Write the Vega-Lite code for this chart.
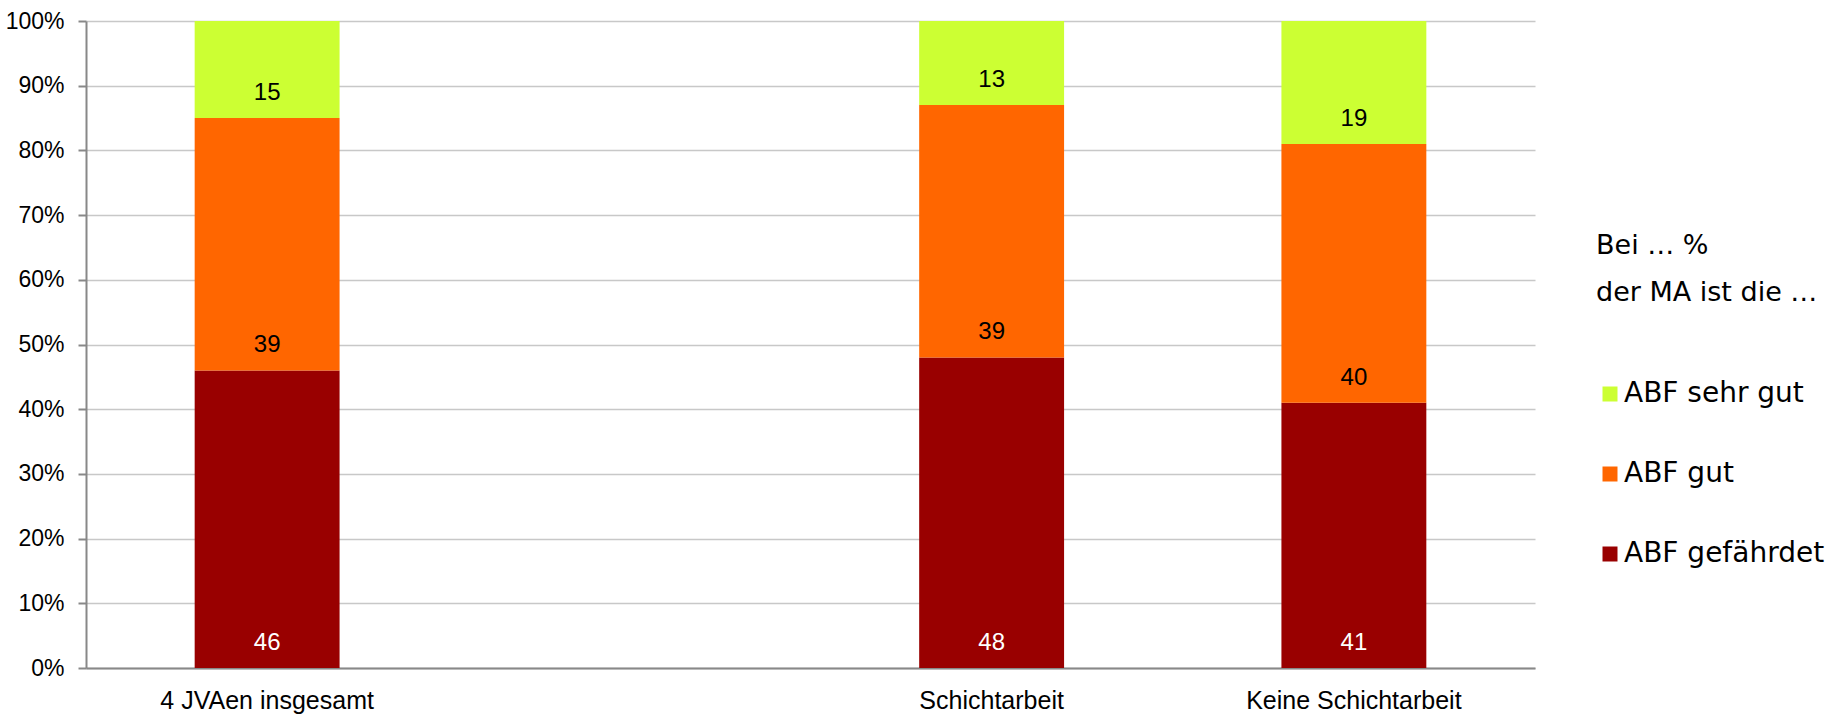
{
  "$schema": "https://vega.github.io/schema/vega-lite/v6.json",
  "autosize": {"type": "none"},
  "padding": {"left": 86, "top": 21, "right": 306, "bottom": 47},
  "width": 1449,
  "height": 647,
  "background": "white",
  "config": {
    "view": {"stroke": null},
    "font": "Liberation Sans"
  },
  "data": {
    "values": [
      {"cat": "4 JVAen insgesamt", "typ": "ABF gefährdet", "ord": 1, "wert": 46},
      {"cat": "4 JVAen insgesamt", "typ": "ABF gut", "ord": 2, "wert": 39},
      {"cat": "4 JVAen insgesamt", "typ": "ABF sehr gut", "ord": 3, "wert": 15},
      {"cat": "Schichtarbeit", "typ": "ABF gefährdet", "ord": 1, "wert": 48},
      {"cat": "Schichtarbeit", "typ": "ABF gut", "ord": 2, "wert": 39},
      {"cat": "Schichtarbeit", "typ": "ABF sehr gut", "ord": 3, "wert": 13},
      {"cat": "Keine Schichtarbeit", "typ": "ABF gefährdet", "ord": 1, "wert": 41},
      {"cat": "Keine Schichtarbeit", "typ": "ABF gut", "ord": 2, "wert": 40},
      {"cat": "Keine Schichtarbeit", "typ": "ABF sehr gut", "ord": 3, "wert": 19}
    ]
  },
  "transform": [
    {"stack": "wert", "groupby": ["cat"], "sort": [{"field": "ord", "order": "ascending"}], "as": ["v0", "v1"]}
  ],
  "encoding": {
    "x": {
      "field": "cat",
      "type": "nominal",
      "sort": null,
      "scale": {
        "domain": ["4 JVAen insgesamt", " ", "Schichtarbeit", "Keine Schichtarbeit"],
        "paddingInner": 0.6,
        "paddingOuter": 0.3
      },
      "axis": {
        "title": null,
        "labelAngle": 0,
        "ticks": false,
        "labelFont": "Liberation Sans",
        "labelFontSize": 25,
        "labelLimit": 0,
        "labelColor": "#000000",
        "labelPadding": 20,
        "domainColor": "#888888",
        "domainWidth": 2,
        "grid": false
      }
    }
  },
  "layer": [
    {
      "mark": {"type": "bar", "stroke": null},
      "encoding": {
        "y": {
          "field": "v0",
          "type": "quantitative",
          "scale": {"domain": [0, 100], "nice": false},
          "axis": {
            "title": null,
            "values": [0, 10, 20, 30, 40, 50, 60, 70, 80, 90, 100],
            "labelExpr": "datum.value + '%'",
            "labelFont": "Liberation Sans",
            "labelFontSize": 23,
            "labelColor": "#000000",
            "labelPadding": 14,
            "tickSize": 8,
            "tickColor": "#888888",
            "tickWidth": 2,
            "domainColor": "#888888",
            "domainWidth": 2,
            "gridColor": "#c8c8c8",
            "gridWidth": 1.5,
            "zindex": 0
          }
        },
        "y2": {"field": "v1"},
        "color": {
          "field": "typ",
          "type": "nominal",
          "scale": {
            "domain": ["ABF sehr gut", "ABF gut", "ABF gefährdet"],
            "range": ["#ccff33", "#ff6600", "#990000"]
          },
          "legend": {
            "title": ["Bei … %", "der MA ist die …"],
            "orient": "none",
            "legendX": 1510,
            "legendY": 212,
            "titleFont": "DejaVu Sans",
            "titleFontSize": 27,
            "titleFontWeight": "normal",
            "titleColor": "#000000",
            "titleLimit": 0,
            "titleLineHeight": 47,
            "titlePadding": 73,
            "labelFont": "DejaVu Sans",
            "labelFontSize": 28,
            "labelColor": "#000000",
            "labelOffset": 0,
            "labelLimit": 0,
            "symbolType": "square",
            "symbolSize": 225,
            "symbolStrokeWidth": 0,
            "symbolOpacity": 1,
            "rowPadding": 52
          }
        }
      }
    },
    {
      "mark": {"type": "text", "font": "Liberation Sans", "fontSize": 24, "baseline": "middle", "dy": -25},
      "encoding": {
        "y": {"field": "v0", "type": "quantitative"},
        "text": {"field": "wert", "type": "quantitative"},
        "color": {
          "condition": {"test": "datum.typ === 'ABF gefährdet'", "value": "#ffffff"},
          "value": "#000000"
        }
      }
    }
  ]
}
